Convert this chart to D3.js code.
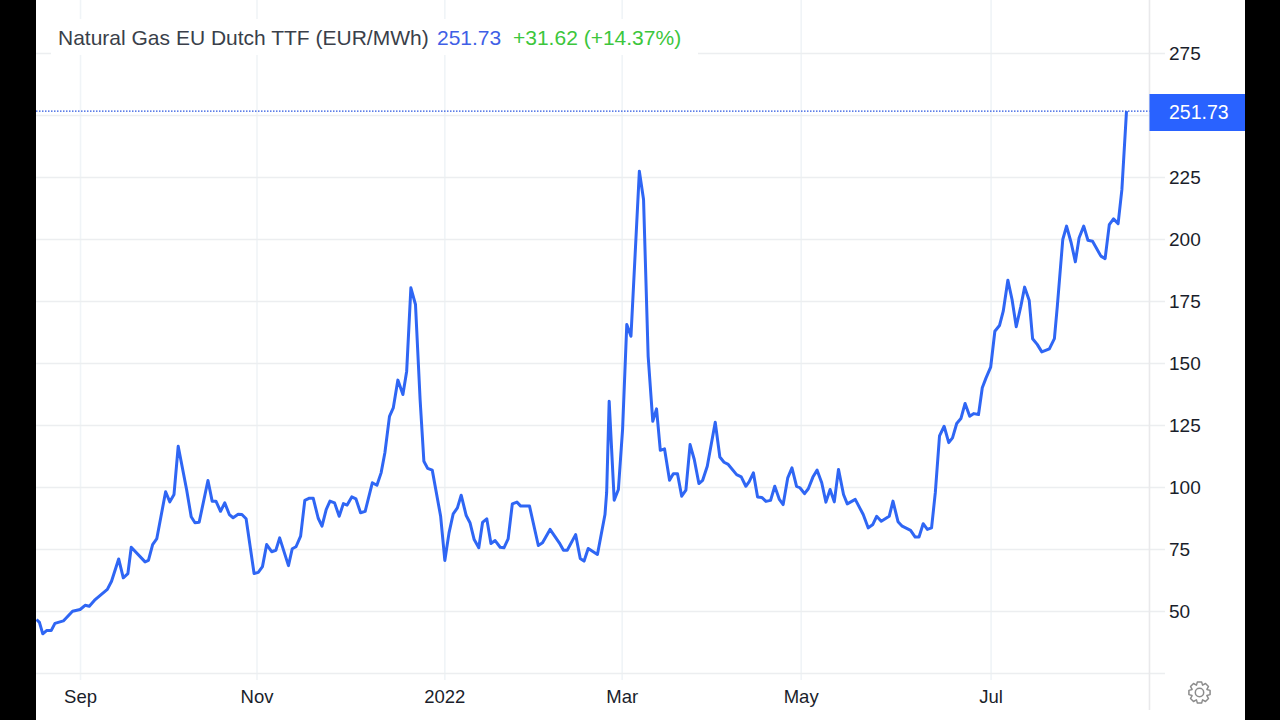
<!DOCTYPE html>
<html><head><meta charset="utf-8">
<script src="https://cdn.jsdelivr.net/npm/d3@7/dist/d3.min.js"></script>
<style>html,body{margin:0;padding:0;background:#fff;overflow:hidden}svg{display:block}text{font-family:"Liberation Sans",Arial,sans-serif}</style>
</head><body><svg id="c" width="1280" height="720"></svg>
<script>
const sessions=[0,0.7,1.5,2.4,3.5,4.4,6.4,8.6,10.4,11.6,12.6,14,16.9,17.9,19.6,20.7,21.8,22.6,25.9,26.7,27.7,28.7,30.8,31.8,32.8,33.8,35.8,36.9,37.8,38.8,40.9,41.9,42.8,43.9,44.9,46,46.9,48.1,49,50,51.9,52.9,53.9,54.9,56.1,57.1,58,60.1,61,61.9,63,64,65.1,66,67.2,68.1,69.1,70,71.1,72.2,73.2,74.1,75.2,76.2,77.3,78.4,80.1,81.2,82.2,83.1,84.2,85.1,86.2,87.4,88.3,89.3,90.4,91.5,92.4,93.3,94.4,96.4,97.4,98.4,99.4,100.4,101.3,102.5,103.4,104.4,105.5,106.4,107.4,108.4,109.4,110.6,111.5,112.5,113.5,114.6,115.5,117.6,119.7,120.7,122.5,124.7,125.7,126.6,128.6,129.7,130.6,131.6,133.8,135.6,136,136.6,137.8,138.8,139.8,140.8,141.8,143.8,144.8,145.9,147,147.9,148.8,149.8,151,151.9,152.9,153.9,154.9,155.9,156.9,158,158.9,160,161.9,163,164,165,167,168.1,169.2,170,171,172,173,174,175.1,176.1,177.2,178.1,179.2,180.2,181.3,182.1,183.2,184.1,185.2,186.2,187.3,188.3,189.3,190.3,191.3,192.5,193.4,195.3,197.2,198.4,199.5,200.4,201.5,203.4,204.3,205.5,206.5,208.5,209.6,210.5,211.5,212.5,213.5,214.4,215.4,216.5,217.6,218.5,219.5,220.5,221.5,222.6,223.6,224.7,225.6,226.5,227.6,228.6,229.7,230.6,231.7,232.7,233.7,234.8,235.7,236.8,237.6,238.7,239.8,241.6,242.8,243.5,244.8,245.7,246.8,247.8,248.7,249.8,250.8,251.9,253.9,254.9,255.9,256.9,258,258.9,260];
const prices=[46.8,45.6,41,42.3,42.3,45.2,46.2,50.1,50.8,52.5,52.1,54.8,58.9,62.2,71.2,63.6,65.3,75.9,70,70.6,77,79.4,98.3,94.2,97.2,116.6,99.2,88.2,85.8,86,102.8,94.5,94.5,90.4,93.8,89.1,87.8,89.2,89.1,87.4,65.3,65.8,68.1,77,74.1,74.7,79.7,68.5,75.3,76.1,80.4,94.8,95.7,95.7,87.6,84.4,91.1,94.5,93.8,88.4,93.5,92.9,96.2,95.4,89.8,90.4,101.9,100.9,105.9,114,128.7,132.1,143.3,137.5,146.9,180.5,173.8,135.5,110.6,107.7,107,88.4,70.6,81.7,89.4,91.8,96.9,88.7,85.8,79,75.7,85.9,87.4,77.4,78.6,75.9,75.7,79.3,93.4,94.1,92.5,92.5,76.6,77.7,83.1,77.7,74.7,74.7,81,71.4,70.3,75.4,73,89.1,98,134.8,94.9,99.2,123.4,165.7,161,227.5,216.1,152.9,126.7,131.7,115,115.6,102.9,105.5,105.5,96.5,98.9,117.3,111.3,101.6,102.9,108.6,126.3,112.3,110.2,109.3,105.2,104.3,100.5,102.4,105.9,96.2,96,94.4,94.8,100.5,95.2,93.1,103.9,107.9,100.5,99.9,97.5,99.5,104.2,107,101.9,94.1,99.2,94.2,107.3,97.2,93.4,95.2,89.1,83.7,85.1,88.4,86.4,88.4,94.5,86.2,84.4,82.7,80,80,85.4,83.1,83.7,98,120.8,124.7,118.1,120,125.8,127.8,133.9,128.7,129.8,129.4,140.2,144.2,148.5,163,165.3,171.1,183.6,175.8,164.8,173.1,180.8,175.4,160,157.7,154.7,155.9,160,173.1,200,205.4,198.7,191,200.7,205.4,199.7,199.3,193.3,192.3,206,208.3,206.4,220.1,251.73];
const gridValues=[25,50,75,100,125,150,175,200,225,250,275];
const yTickLabels=[50,75,100,125,150,175,200,225,275];
const xTickSessions=[10.5,52.6,97.4,139.7,182.4,227.7];
const xTickLabels=["Sep","Nov","2022","Mar","May","Jul"];
const titleText="Natural Gas EU Dutch TTF (EUR/MWh)";
const lastPrice="251.73";
const changeText="+31.62 (+14.37%)";

const svg=d3.select("#c");
const blue="#2f66f4";
const left=36,right=1149.5,bottom=673.5,edge=1245;
const x=d3.scaleLinear().domain([0,260]).range([36.5,1126.5]);
const y=d3.scaleLinear().domain([25,275]).range([673.5,53.5]);

svg.append("defs").append("clipPath").attr("id","plot").append("rect")
  .attr("x",left).attr("y",0).attr("width",right-left).attr("height",720);

svg.append("g").selectAll("line").data(xTickSessions).join("line")
  .attr("x1",d=>x(d)).attr("x2",d=>x(d)).attr("y1",0).attr("y2",680)
  .attr("stroke","#f0f4f7").attr("stroke-width",1.6);
svg.append("g").selectAll("line").data(gridValues).join("line")
  .attr("x1",left).attr("x2",1165).attr("y1",d=>y(d)).attr("y2",d=>y(d))
  .attr("stroke","#eceef0").attr("stroke-width",1.6);
svg.append("line").attr("x1",right).attr("x2",right).attr("y1",0).attr("y2",710)
  .attr("stroke","#e9e9eb").attr("stroke-width",1.6);

svg.append("rect").attr("x",51).attr("y",19).attr("width",647).attr("height",36).attr("fill","#fff");

const yAxis=d3.axisRight(y).tickValues(yTickLabels).tickSize(0).tickPadding(0);
const gy=svg.append("g").attr("transform","translate(1169,0)").call(yAxis);
gy.select(".domain").remove();
gy.selectAll("text").attr("font-size",19).attr("fill","#1a1e2b").attr("font-family","Liberation Sans").attr("dy","0.34em");

const xLabel=d3.scaleOrdinal().domain(xTickSessions).range(xTickLabels);
const xAxis=d3.axisBottom(x).tickValues(xTickSessions).tickFormat(d=>xLabel(d)).tickSize(0).tickPadding(0);
const gx=svg.append("g").attr("transform","translate(-0.5,696)").call(xAxis);
gx.select(".domain").remove();
gx.selectAll("text").attr("font-size",18.5).attr("fill","#1a1e2b").attr("font-family","Liberation Sans").attr("dy","0.36em");

const line=d3.line().x((d,i)=>x(sessions[i])).y(d=>y(d)).curve(d3.curveLinear);
svg.append("path").datum(prices).attr("d",line).attr("fill","none").attr("stroke",blue)
  .attr("stroke-width",3).attr("stroke-linejoin","round").attr("clip-path","url(#plot)");

const lastY=y(prices[prices.length-1]);
svg.append("line").attr("x1",left).attr("x2",right).attr("y1",lastY).attr("y2",lastY)
  .attr("stroke","#2a55e0").attr("stroke-width",1.3).attr("stroke-dasharray","1.5 1.5");
svg.append("rect").attr("x",right).attr("y",94).attr("width",edge-right).attr("height",37).attr("fill","#2962ff");
svg.append("text").attr("x",1169).attr("y",lastY+1).attr("dy","0.36em").attr("font-size",19.5).attr("fill","#fff").text(lastPrice);

const legend=svg.append("text").attr("x",58).attr("y",45).attr("font-size",21);
legend.append("tspan").attr("fill","#3a3f4a").text(titleText);
legend.append("tspan").attr("x",437).attr("fill","#3f5fe6").text(lastPrice);
legend.append("tspan").attr("x",513).attr("fill","#3cc63c").text(changeText);

const gear=d3.path(),gx0=1199.5,gy0=692.5,teeth=8;
for(let i=0;i<teeth;i++){
  const a=i*2*Math.PI/teeth,w=Math.PI/teeth;
  const pts=[[8,a-w*1.0],[10.8,a-w*0.5],[10.8,a+w*0.5],[8,a+w*1.0]];
  pts.forEach((p,j)=>{const px=gx0+p[0]*Math.cos(p[1]),py=gy0+p[0]*Math.sin(p[1]);
    if(i===0&&j===0)gear.moveTo(px,py);else gear.lineTo(px,py);});
}
gear.closePath();
svg.append("path").attr("d",gear.toString()).attr("fill","none").attr("stroke","#8c8c8c").attr("stroke-width",1.5).attr("stroke-linejoin","round");
svg.append("circle").attr("cx",gx0).attr("cy",gy0).attr("r",4.2).attr("fill","none").attr("stroke","#8c8c8c").attr("stroke-width",1.5);

svg.append("rect").attr("x",0).attr("y",0).attr("width",left).attr("height",720).attr("fill","#000");
svg.append("rect").attr("x",edge).attr("y",0).attr("width",1280-edge).attr("height",720).attr("fill","#000");
</script></body></html>
